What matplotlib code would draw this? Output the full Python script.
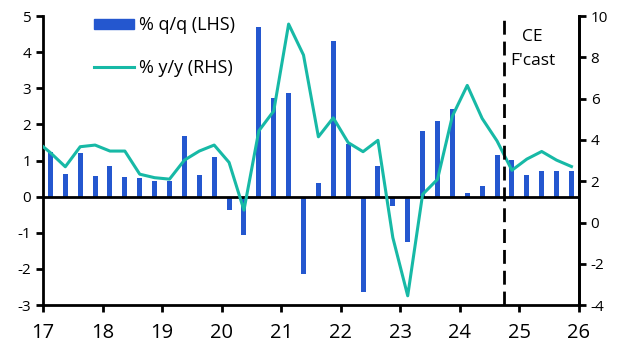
import numpy as np
import matplotlib
matplotlib.use("Agg")
import matplotlib.pyplot as plt
from matplotlib import font_manager
from matplotlib.patches import Patch
from matplotlib.lines import Line2D

plt.rcParams["font.family"] = ["Open Sans", "DejaVu Sans"]
plt.rcParams["axes.unicode_minus"] = False

# narrow, tall digits on the year axis
names = {f.name for f in font_manager.fontManager.ttflist}
xfont = "Liberation Sans Narrow" if "Liberation Sans Narrow" in names else "Open Sans"

# ===== data: quarterly, 2017Q1 - 2025Q4 =====
qq = [1.24, 0.63, 1.21, 0.57,
      0.85, 0.55, 0.52, 0.43,
      0.44, 1.68, 0.60, 1.10,
      -0.37, -1.06, 4.70, 2.72,
      2.87, -2.14, 0.38, 4.31,
      1.46, -2.63, 0.85, -0.25,
      -1.25, 1.82, 2.10, 2.43,
      0.10, 0.30, 1.15, 1.01,
      0.60, 0.71, 0.71, 0.71]

# y/y starts one quarter earlier (2016Q4), clipped by the axis
yy = [3.98,
      3.38, 2.70, 3.67, 3.75,
      3.46, 3.46, 2.34, 2.17,
      2.10, 3.02, 3.46, 3.75,
      2.91, 0.60, 4.44, 5.40,
      9.61, 8.11, 4.15, 5.07,
      3.87, 3.43, 3.98, -0.73,
      -3.55, 1.36, 2.09, 5.15,
      6.64, 5.04, 3.95, 2.53,
      3.07, 3.44, 3.02, 2.71]

year_ticks = list(range(17, 27))
forecast_start = 24.75

x_bar = 17 + (np.arange(len(qq)) + 0.5) / 4
x_line = 17 + (np.arange(len(yy)) - 0.5) / 4

bar_col = "#2457cf"
line_col = "#17b9a6"

fig = plt.figure(figsize=(6.32, 3.56), dpi=100)
ax = fig.add_axes([0.068, 0.143, 0.848, 0.812])
ax2 = ax.twinx()

ax.bar(x_bar, qq, width=0.085, color=bar_col, zorder=2)
ax.axhline(0, color="black", lw=2, zorder=3)
ax2.plot(x_line, yy, color=line_col, lw=2.2, zorder=4)
ax2.axvline(forecast_start, color="black", lw=2, ls=(0, (5, 2.5)), zorder=5)
ax2.text(25.22, 8.4, "CE\nF'cast", ha="center", va="center", fontsize=12.5,
         linespacing=1.65)

ax.set_xlim(17, 26)
ax.set_ylim(-3, 5)
ax2.set_ylim(-4, 10)
ax.set_xticks(year_ticks)
ax.set_yticks(range(-3, 6))
ax2.set_yticks(range(-4, 11, 2))

for a in (ax, ax2):
    a.spines["top"].set_visible(False)
    for s in ("left", "right", "bottom"):
        a.spines[s].set_linewidth(2)
    a.tick_params(width=2, length=5, labelsize=11)
ax.tick_params(axis="x", pad=8)
for lab in ax.get_xticklabels():
    lab.set_fontfamily(xfont)
    lab.set_fontsize(14.5)
ax2.spines["left"].set_visible(False)
ax2.spines["bottom"].set_visible(False)

handles = [Patch(color=bar_col), Line2D([], [], color=line_col, lw=2.2)]
ax.legend(handles, ["% q/q (LHS)", "% y/y (RHS)"], loc="upper left",
          bbox_to_anchor=(0.065, 1.055), frameon=False, fontsize=13,
          handlelength=2.2, handleheight=0.55, labelspacing=1.35,
          handletextpad=0.3)

fig.savefig("out.png", dpi=100)
